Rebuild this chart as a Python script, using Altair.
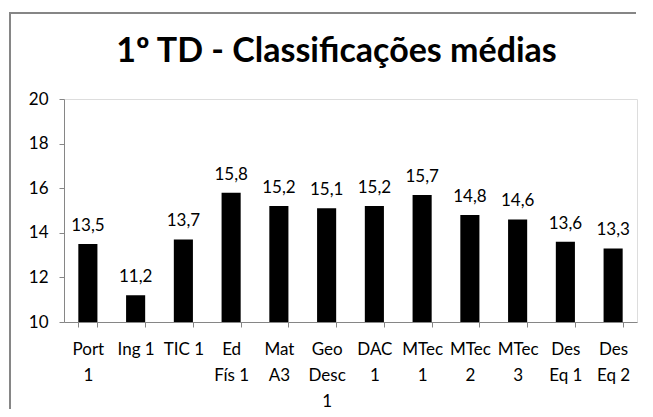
import altair as alt
import pandas as pd

categories = ["Port\n1", "Ing 1", "TIC 1", "Ed\nFís 1", "Mat\nA3", "Geo\nDesc\n1",
              "DAC\n1", "MTec\n1", "MTec\n2", "MTec\n3", "Des\nEq 1", "Des\nEq 2"]
values = [13.5, 11.2, 13.7, 15.8, 15.2, 15.1, 15.2, 15.7, 14.8, 14.6, 13.6, 13.3]
y_ticks = [10, 12, 14, 16, 18, 20]
title_text = "1º TD - Classificações médias"

df = pd.DataFrame({"cat": categories, "val": values})
df["label"] = [f"{v:.1f}".replace(".", ",") for v in values]
df["base"] = 10

FONT = "Lato"
AXIS_COL = "#868686"

x_enc = alt.X("cat:N", sort=categories, title=None,
              scale=alt.Scale(paddingInner=0.6, paddingOuter=0.3),
              axis=alt.Axis(labelAngle=0, tickBand="extent", labelExpr="split(datum.label, '\\n')",
                            labelLineHeight=26, labelFontSize=17, labelFont=FONT, labelColor="#000000",
                            labelPadding=14, tickSize=5, tickColor=AXIS_COL, domainColor=AXIS_COL,
                            labelBaseline="top", labelLimit=0))
y_enc = alt.Y("val:Q", title=None,
              scale=alt.Scale(domain=[10, 20], zero=False, nice=False),
              axis=alt.Axis(values=y_ticks, grid=False, labelFontSize=17, labelFont=FONT,
                            labelColor="#000000", tickSize=5, tickColor=AXIS_COL,
                            domainColor=AXIS_COL, labelPadding=11))

border_left = alt.Chart(df).mark_rule(stroke=AXIS_COL, strokeWidth=2).encode(
    x=alt.value(-54), y=alt.value(-87), y2=alt.value(310))
border_top = alt.Chart(df).mark_rule(stroke=AXIS_COL, strokeWidth=2).encode(
    x=alt.value(-55), x2=alt.value(572), y=alt.value(-86))

bars = alt.Chart(df).mark_bar(color="#000000").encode(x=x_enc, y=y_enc, y2="base:Q")

labels = alt.Chart(df).mark_text(font=FONT, fontSize=17, color="#000000",
                                 baseline="alphabetic", dy=-13).encode(
    x=alt.X("cat:N", sort=categories), y="val:Q", text="label:N")

chart = alt.layer(border_left, border_top, bars, labels).properties(
    width=573, height=223,
    title=alt.TitleParams(title_text, font=FONT, fontSize=34, fontWeight="bold", color="#000000",
                          anchor="middle", baseline="alphabetic", offset=-85, dx=-14),
    autosize=alt.AutoSizeParams(type="none"),
    padding={"left": 56, "top": 91, "right": 8, "bottom": 87},
).configure_view(stroke=None).configure(background="#ffffff")

chart.save("out.html", embed_options={"renderer": "svg", "actions": False})
